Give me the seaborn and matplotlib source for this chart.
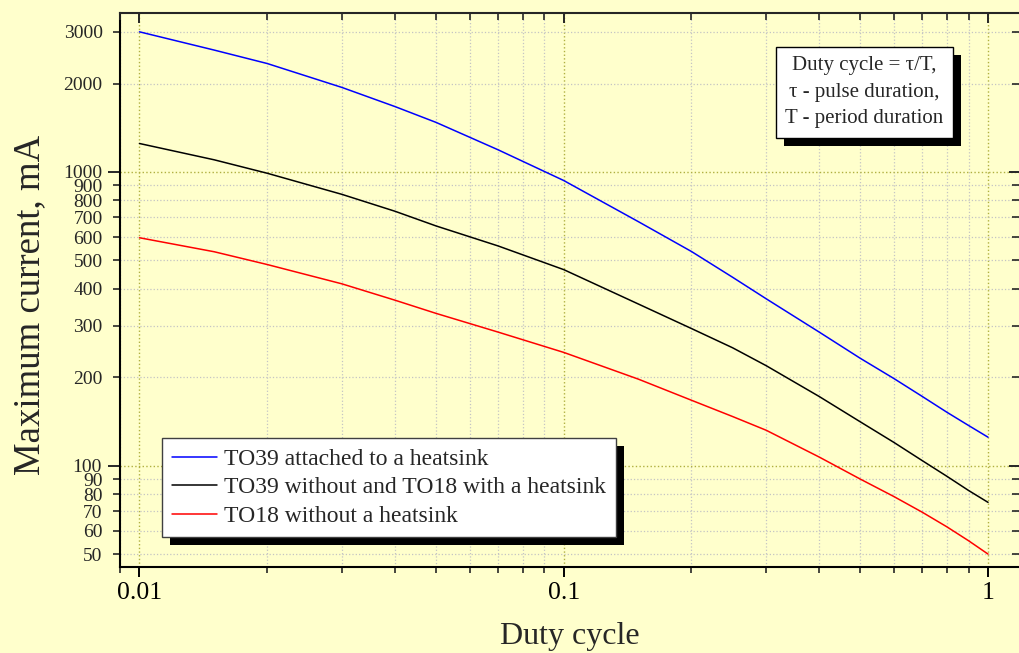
import matplotlib
matplotlib.use("Agg")
import matplotlib.pyplot as plt
import matplotlib.ticker as mticker
import matplotlib.transforms as mtransforms
from matplotlib.patches import Rectangle
from matplotlib.lines import Line2D
import seaborn as sns
import pandas as pd

# --- data ---
duty = [0.01, 0.015, 0.02, 0.03, 0.04, 0.05, 0.07, 0.1, 0.15, 0.2, 0.25, 0.3,
        0.4, 0.5, 0.6, 0.7, 0.8, 0.9, 1.0]
to39_heatsink = [3000, 2600, 2340, 1940, 1670, 1475, 1190, 935, 677, 536, 438, 370,
                 285, 232, 198, 172, 152, 137, 125]
to39_bare_to18_heatsink = [1250, 1100, 990, 839, 735, 655, 560, 465, 355, 293, 252, 219,
                           172, 141, 120, 104, 92, 82.3, 75]
to18_bare = [597, 535, 484, 416, 366, 330, 285, 243, 197, 167, 147, 132,
             107, 90, 78.5, 69.4, 61.9, 55.5, 50]

series_names = ["TO39 attached to a heatsink",
                "TO39 without and TO18 with a heatsink",
                "TO18 without a heatsink"]
series_colors = ["#0000FF", "#000000", "#FF0000"]

x_major = [0.01, 0.1, 1]
x_major_labels = ["0.01", "0.1", "1"]
x_minor = [0.009] + [k / 100 for k in range(2, 10)] + [k / 10 for k in range(2, 10)]

y_major = [100, 1000]
y_major_labels = ["100", "1000"]
y_minor = [50, 60, 70, 80, 90, 200, 300, 400, 500, 600, 700, 800, 900, 2000, 3000]
y_minor_labels = ["50", "60", "70", "80", "90", "200", "300", "400", "500",
                  "600", "700", "800", "900", "2000", "3000"]

note_text = "Duty cycle = \u03c4/T,\n\u03c4 - pulse duration,\nT - period duration"

# long-form table for seaborn
df = pd.concat([
    pd.DataFrame({"duty": duty, "current": vals, "series": name})
    for name, vals in zip(series_names, [to39_heatsink, to39_bare_to18_heatsink, to18_bare])
])

bg = "#FFFFCC"
sns.set_style("ticks")
plt.rcParams['font.family'] = ['Liberation Serif', 'DejaVu Serif']

fig, ax = plt.subplots(figsize=(10.19, 6.53), dpi=100)
fig.patch.set_facecolor(bg)
ax.set_facecolor(bg)
fig.subplots_adjust(left=0.1178, right=1.0, bottom=0.1322, top=0.9806)

sns.lineplot(data=df, x="duty", y="current", hue="series", hue_order=series_names,
             palette=series_colors, linewidth=1.1, errorbar=None, legend=False, ax=ax)

ax.set_xscale("log")
ax.set_yscale("log")
ax.set_xlim(0.009, 1.183)
ax.set_ylim(45.3, 3486)

ax.xaxis.set_major_locator(mticker.FixedLocator(x_major))
ax.xaxis.set_major_formatter(mticker.FixedFormatter(x_major_labels))
ax.xaxis.set_minor_locator(mticker.FixedLocator(x_minor))
ax.xaxis.set_minor_formatter(mticker.NullFormatter())
ax.yaxis.set_major_locator(mticker.FixedLocator(y_major))
ax.yaxis.set_major_formatter(mticker.FixedFormatter(y_major_labels))
ax.yaxis.set_minor_locator(mticker.FixedLocator(y_minor))
ax.yaxis.set_minor_formatter(mticker.FixedFormatter(y_minor_labels))

# grid: olive dotted on decades, grey dotted elsewhere
ax.grid(which="major", color="#B0B040", linestyle=":", linewidth=1.0)
ax.grid(which="minor", color="#C4C4C4", linestyle=":", linewidth=0.9)
ax.set_axisbelow(True)

for side in ["top", "right"]:
    ax.spines[side].set_visible(False)
for side in ["left", "bottom"]:
    ax.spines[side].set_linewidth(1.5)
    ax.spines[side].set_color("black")

ax.tick_params(axis="x", which="major", direction="out", length=7.2, width=1.4,
               labelsize=18.5, pad=4, colors="black")
ax.tick_params(axis="x", which="minor", direction="out", length=4.3, width=1.2)
ax.tick_params(axis="y", which="major", direction="out", length=8.6, width=1.4,
               labelsize=14, pad=4.5)
ax.tick_params(axis="y", which="minor", direction="out", length=5, width=1.2,
               labelsize=14, pad=7.5)

# top / right ticks point inward -> overlay axes
ax2 = fig.add_axes(ax.get_position(), sharex=ax, sharey=ax)
ax2.patch.set_visible(False)
ax2.grid(False)
for side in ["left", "bottom", "right"]:
    ax2.spines[side].set_visible(False)
ax2.spines["top"].set_linewidth(1.5)
ax2.tick_params(which="both", direction="in", bottom=False, left=False, top=True, right=True,
                labelbottom=False, labelleft=False, labeltop=False, labelright=False)
ax2.tick_params(which="major", length=7.2, width=1.4)
ax2.tick_params(which="minor", length=4.8, width=1.2)

ax.set_xlabel("Duty cycle", fontsize=23)
ax.set_ylabel("Maximum current, mA", fontsize=26.5)
ax.xaxis.set_label_coords(0.5, -0.1)
ax.yaxis.set_label_coords(-0.081, 0.473)

handles = [Line2D([], [], color=c, linewidth=1.1) for c in series_colors]
leg = ax.legend(handles, series_names, loc="lower left", bbox_to_anchor=(0.0463, 0.0536),
                borderaxespad=0, fontsize=17, handlelength=1.92, handletextpad=0.3,
                labelspacing=0.3, borderpad=0.42, frameon=True, fancybox=False,
                framealpha=1, edgecolor="#404040", facecolor="white")
leg.get_frame().set_linewidth(1.0)
leg.set_zorder(6)

note = ax.text(0.828, 0.8565, note_text, transform=ax.transAxes, ha="center", va="center",
               fontsize=15, linespacing=1.55, zorder=6,
               bbox=dict(boxstyle="square,pad=0.45", fc="white", ec="black", lw=1.0))

# black drop shadows behind legend and note
fig.canvas.draw()
renderer = fig.canvas.get_renderer()
off = 8
for bb in [leg.get_frame().get_window_extent(renderer),
           note.get_bbox_patch().get_window_extent(renderer)]:
    ax.add_patch(Rectangle((bb.x0 + off, bb.y0 - off), bb.width, bb.height,
                           transform=mtransforms.IdentityTransform(),
                           facecolor="black", edgecolor="none", zorder=5.5, clip_on=False))

fig.savefig("out.png", dpi=100, facecolor=bg)
